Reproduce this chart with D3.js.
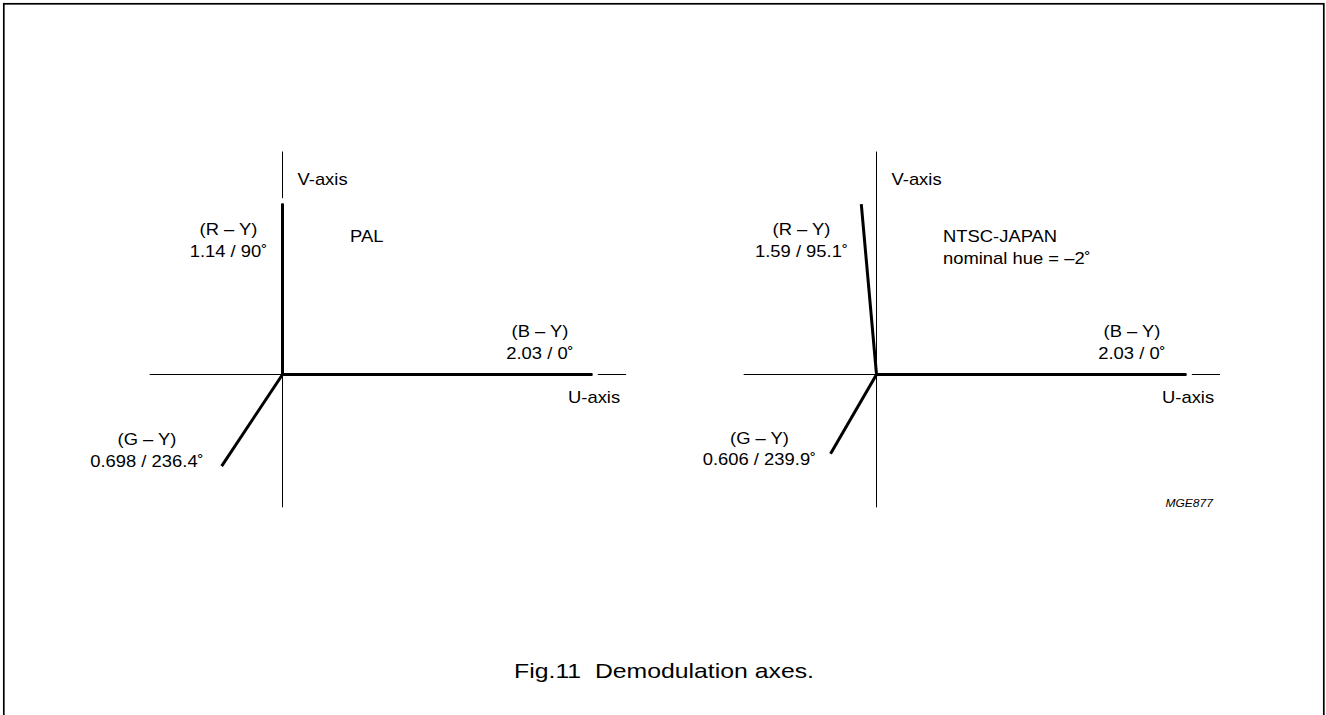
<!DOCTYPE html>
<html>
<head>
<meta charset="utf-8">
<script src="https://cdn.jsdelivr.net/npm/d3@7"></script>
<style>
	body { margin: 0; background: #fff; }
	text { font-family: "Liberation Sans", Arial, sans-serif; fill: #000; white-space: pre; }
</style>
</head>
<body>
<div id="figure"></div>
<script>
// Demodulation axes, PAL and NTSC-JAPAN

// Data
const panelNames = ["PAL", "NTSC-JAPAN"];
const vectorNames = ["(B – Y)", "(R – Y)", "(G – Y)"];
const palAmplitude = [2.03, 1.14, 0.698];
const palAngle = [0, 90, 236.4];
const ntscAmplitude = [2.03, 1.59, 0.606];
const ntscAngle = [0, 95.1, 239.9];
// length as drawn in the figure (R - Y is not to scale)
const palDrawnLength = [2.03, 1.12, 0.72];
const ntscDrawnLength = [2.03, 1.12, 0.60];
const uAxisExtent = [-0.87, 2.25];
const vAxisExtent = [-0.87, 1.46];
const axisNames = ["U-axis", "V-axis"];
const panelNotes = [["PAL"], ["NTSC-JAPAN", "nominal hue = –2˚"]];
const figureCode = "MGE877";
const caption = "Fig.11  Demodulation axes.";

// Layout
var width = 1326, height = 715;
var pxPerUnit = 152.7;
var originX = [282.5, 876.5], originY = 374.5;
var lineGap = 21.5;
// label offsets from origin (px): centre x, first baseline y
var labelOffsets = [
	[[257.5, -37.5], [-54, -139.5], [-135.5, 70.5]],
	[[255.5, -37.5], [-75, -139.5], [-117, 69]]
];
var noteOffset = [[67.5, -132.5], [66.5, -132.5]];

const svg = d3.select("#figure")
	.append("svg")
	.attr("width", width)
	.attr("height", height);

// frame
svg.append("rect")
	.attr("x", 3.8)
	.attr("y", 3.8)
	.attr("width", 1320)
	.attr("height", 740)
	.attr("fill", "none")
	.attr("stroke", "#000")
	.attr("stroke-width", 1.7);

// text helper, the type in the figure runs a bit wide
function addText(g, x, y, str, size, anchor, sx) {
	return g.append("text")
		.attr("transform", "translate(" + x + "," + y + ") scale(" + sx + ",1)")
		.attr("text-anchor", anchor)
		.attr("xml:space", "preserve")
		.style("font-size", size + "px")
		.text(str);
}

panelNames.forEach(function(name, p) {
	var amplitude = p == 0 ? palAmplitude : ntscAmplitude;
	var angle = p == 0 ? palAngle : ntscAngle;
	var drawn = p == 0 ? palDrawnLength : ntscDrawnLength;

	var x = d3.scaleLinear().domain([0, 1]).range([originX[p], originX[p] + pxPerUnit]);
	var y = d3.scaleLinear().domain([0, 1]).range([originY, originY - pxPerUnit]);

	var g = svg.append("g");

	// thin axes
	g.append("line")
		.attr("x1", x(uAxisExtent[0])).attr("x2", x(uAxisExtent[1]))
		.attr("y1", y(0)).attr("y2", y(0))
		.attr("stroke", "#000").attr("stroke-width", 1);
	g.append("line")
		.attr("x1", x(0)).attr("x2", x(0))
		.attr("y1", y(vAxisExtent[0])).attr("y2", y(vAxisExtent[1]))
		.attr("stroke", "#000").attr("stroke-width", 1);

	var vectors = vectorNames.map(function(n, i) {
		var a = angle[i] * Math.PI / 180;
		return {name: n, amp: amplitude[i], deg: angle[i],
			u: drawn[i] * Math.cos(a), v: drawn[i] * Math.sin(a),
			ug: (drawn[i] + 0.035) * Math.cos(a), vg: (drawn[i] + 0.035) * Math.sin(a)};
	});

	// small white gap past each vector tip
	g.selectAll("line.gap")
		.data(vectors)
		.enter()
		.append("line")
		.attr("class", "gap")
		.attr("x1", function(d) { return x(d.u); })
		.attr("y1", function(d) { return y(d.v); })
		.attr("x2", function(d) { return x(d.ug); })
		.attr("y2", function(d) { return y(d.vg); })
		.attr("stroke", "#fff")
		.attr("stroke-width", 4);

	// vectors
	g.selectAll("line.vec")
		.data(vectors)
		.enter()
		.append("line")
		.attr("class", "vec")
		.attr("x1", x(0))
		.attr("y1", y(0))
		.attr("x2", function(d) { return x(d.u); })
		.attr("y2", function(d) { return y(d.v); })
		.attr("stroke", "#000")
		.attr("stroke-width", 3)
		.attr("stroke-linecap", "butt");

	// vector labels
	vectors.forEach(function(d, i) {
		var off = labelOffsets[p][i];
		addText(g, originX[p] + off[0], originY + off[1], d.name, 16, "middle", 1.15);
		addText(g, originX[p] + off[0], originY + off[1] + lineGap, d.amp + " / " + d.deg + "˚", 16, "middle", 1.15);
	});

	// axis names
	addText(g, x(0) + 15, originY - 190, axisNames[1], 16, "start", 1.15);
	addText(g, x(0) + 285.5, originY + 28.5, axisNames[0], 16, "start", 1.15);

	// panel notes
	panelNotes[p].forEach(function(t, j) {
		addText(g, originX[p] + noteOffset[p][0], originY + noteOffset[p][1] + j * lineGap, t, 16, "start", 1.15);
	});

	if (p == 1) {
		addText(g, originX[p] + 336.5, originY + 132.5, figureCode, 10.5, "end", 1.15)
			.style("font-style", "italic");
	}
});

// caption
addText(svg, 664, 677.5, caption, 20, "middle", 1.24);
</script>
</body>
</html>
